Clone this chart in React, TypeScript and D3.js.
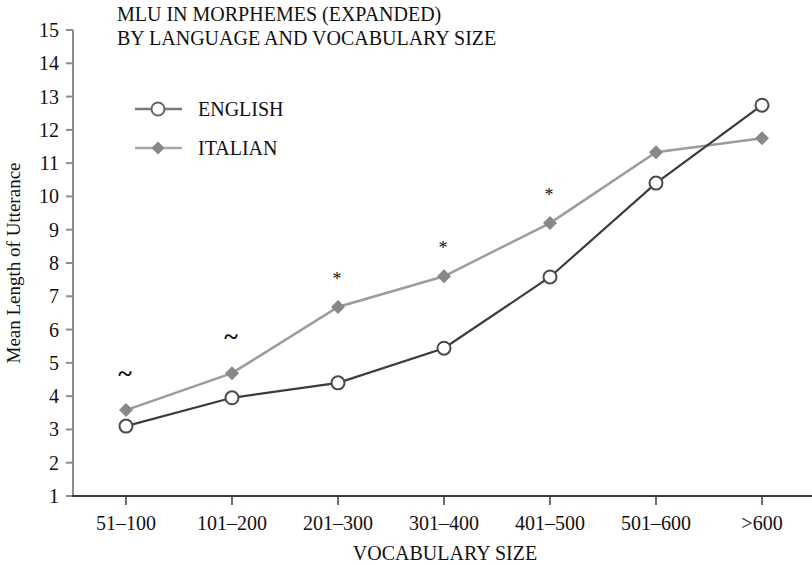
import React from "react";
import * as d3 from "d3";

const categories = ["51–100", "101–200", "201–300", "301–400", "401–500", "501–600", ">600"];
const english = [3.1, 3.95, 4.4, 5.44, 7.58, 10.4, 12.74];
const italian = [3.58, 4.69, 6.68, 7.6, 9.2, 11.33, 11.75];
const significance = ["~", "~", "*", "*", "*", "", ""];
const yTicks = [1, 2, 3, 4, 5, 6, 7, 8, 9, 10, 11, 12, 13, 14, 15];
const titleLines = ["MLU IN MORPHEMES (EXPANDED)", "BY LANGUAGE AND VOCABULARY SIZE"];

const W = 812;
const H = 564;
const FONT = "'Liberation Serif', 'Times New Roman', Times, 'DejaVu Serif', serif";

export default function App() {
  const x = d3.scaleBand<string>().domain(categories).range([73, 815]);
  const cx = (c: string) => (x(c) as number) + x.bandwidth() / 2;
  const y = d3.scaleLinear().domain([1, 15]).range([496, 30]);

  const line = d3
    .line<number>()
    .x((_, i) => cx(categories[i]))
    .y((d) => y(d));

  const diamond = (px: number, py: number, r: number) =>
    `M${px},${py - r}L${px + r},${py}L${px},${py + r}L${px - r},${py}Z`;

  const ts = { fontFamily: FONT } as React.CSSProperties;

  return (
    <svg
      width={W}
      height={H}
      style={{ position: "absolute", left: 0, top: 0, background: "#fff", fontFamily: FONT }}
    >
      <rect width={W} height={H} fill="#fff" />
      {/* Title */}
      {titleLines.map((t, i) => (
        <text key={i} x={117} y={21 + i * 24} fontSize={20} fill="#111" style={ts}>
          {t}
        </text>
      ))}

      {/* Y axis */}
      <line x1={73} x2={73} y1={y(15)} y2={y(1)} stroke="#8c8c8c" strokeWidth={2} />
      {yTicks.map((t) => (
        <g key={t}>
          <line x1={66} x2={73} y1={y(t)} y2={y(t)} stroke="#8c8c8c" strokeWidth={2} />
          <text
            x={59}
            y={y(t)}
            dy="0.35em"
            textAnchor="end"
            fontSize={20}
            fill="#111"
            style={ts}
          >
            {t}
          </text>
        </g>
      ))}
      <text
        transform={`translate(20,${(y(15) + y(1)) / 2}) rotate(-90)`}
        textAnchor="middle"
        fontSize={19}
        fill="#111"
        style={ts}
      >
        Mean Length of Utterance
      </text>

      {/* X axis */}
      <line x1={72} x2={W} y1={496} y2={496} stroke="#3a3a3a" strokeWidth={2.2} />
      {categories.map((c) => (
        <g key={c}>
          <line x1={cx(c)} x2={cx(c)} y1={496} y2={505} stroke="#3a3a3a" strokeWidth={1.5} />
          <text x={cx(c)} y={530} textAnchor="middle" fontSize={20} fill="#111" style={ts}>
            {c}
          </text>
        </g>
      ))}
      <text x={445} y={560} textAnchor="middle" fontSize={20} fill="#111" style={ts}>
        VOCABULARY SIZE
      </text>

      {/* Italian series */}
      <path d={line(italian) || ""} fill="none" stroke="#9c9c9c" strokeWidth={2.5} />
      {italian.map((v, i) => (
        <path key={i} d={diamond(cx(categories[i]), y(v), 7)} fill="#888" />
      ))}

      {/* English series */}
      <path d={line(english) || ""} fill="none" stroke="#3c3c3c" strokeWidth={2.2} />
      {english.map((v, i) => (
        <circle
          key={i}
          cx={cx(categories[i])}
          cy={y(v)}
          r={6.5}
          fill="#fff"
          stroke="#4a4a4a"
          strokeWidth={2}
        />
      ))}

      {/* Significance marks */}
      {significance.map((s, i) =>
        s ? (
          <text
            key={i}
            x={cx(categories[i]) - 1}
            y={y(italian[i]) - (s === "~" ? 28 : 22)}
            textAnchor="middle"
            fontSize={s === "~" ? 26 : 18}
            fontWeight={s === "~" ? "bold" : "normal"}
            fill="#111"
            style={ts}
          >
            {s}
          </text>
        ) : null
      )}

      {/* Legend */}
      <line x1={135} x2={182} y1={109} y2={109} stroke="#7a7a7a" strokeWidth={2.5} />
      <circle cx={158} cy={109} r={6.5} fill="#fff" stroke="#666" strokeWidth={2} />
      <text x={198} y={109} dy="0.35em" fontSize={20} fill="#111" style={ts}>
        ENGLISH
      </text>
      <line x1={135} x2={182} y1={148} y2={148} stroke="#a8a8a8" strokeWidth={2.5} />
      <path d={diamond(158, 148, 6.5)} fill="#888" />
      <text x={198} y={148} dy="0.35em" fontSize={20} fill="#111" style={ts}>
        ITALIAN
      </text>
    </svg>
  );
}
